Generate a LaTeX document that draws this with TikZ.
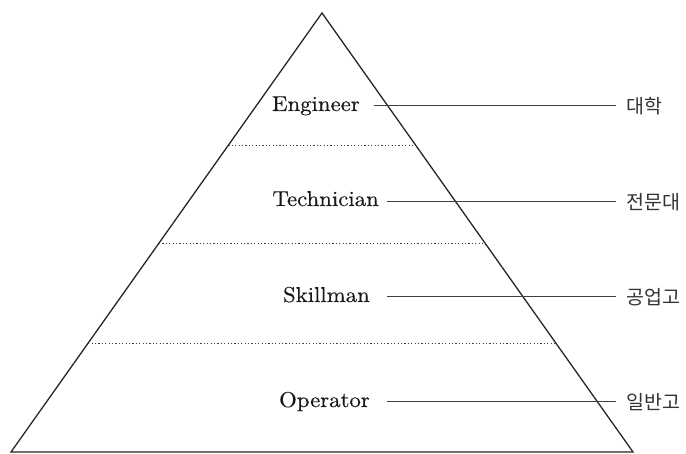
\documentclass[tikz,border=0pt]{standalone}
\usepackage{fontspec}
\newfontfamily\kor{Noto Sans CJK KR}
\newfontfamily\lat{lmroman10-regular}[Extension=.otf, FakeStretch=1.06, FakeBold=0.4]
\usetikzlibrary{calc}
\tikzset{
  lvl/.style={anchor=base east, inner sep=0pt, font=\lat\fontsize{21.5}{26}\selectfont, text=black!90},
  kr/.style={anchor=west, inner sep=0pt, font=\kor\fontsize{19.5}{24}\selectfont, text=black!80},
  edge/.style={line width=1.3pt, black!85},
  sep/.style={line width=0.9pt, black!75, dash pattern=on 1.2pt off 2.2pt},
  conn/.style={line width=1pt, black!75, shorten <=14pt, shorten >=10pt}
}
\begin{document}
\begin{tikzpicture}[x=1pt,y=-1pt]
\useasboundingbox (0,0) rectangle (686,454);
\coordinate (A) at (322,13);
\coordinate (BL) at (11,452);
\coordinate (BR) at (633,452);
\draw[edge, line join=miter] (BL) -- (A) -- (BR) -- cycle;
\foreach \f in {0.3007,0.5239,0.7517}{
  \draw[sep] ($(A)!\f!(BL)$) -- ($(A)!\f!(BR)$);
}
\node[lvl] (eng) at (360,111) {Engineer};
\node[lvl] (tec) at (379,206) {Technician};
\node[lvl] (ski) at (370,302) {Skillman};
\node[lvl] (ope) at (370,407) {Operator};
\node[kr] (k1) at (626,106) {대학};
\node[kr] (k2) at (626,202) {전문대};
\node[kr] (k3) at (626,297) {공업고};
\node[kr] (k4) at (626,402) {일반고};
\draw[conn] (eng.east |- k1.west) -- (k1.west);
\draw[conn, shorten <=8pt] (tec.east |- k2.west) -- (k2.west);
\draw[conn, shorten <=17pt] (ski.east |- k3.west) -- (k3.west);
\draw[conn, shorten <=17pt] (ope.east |- k4.west) -- (k4.west);
\end{tikzpicture}
\end{document}
